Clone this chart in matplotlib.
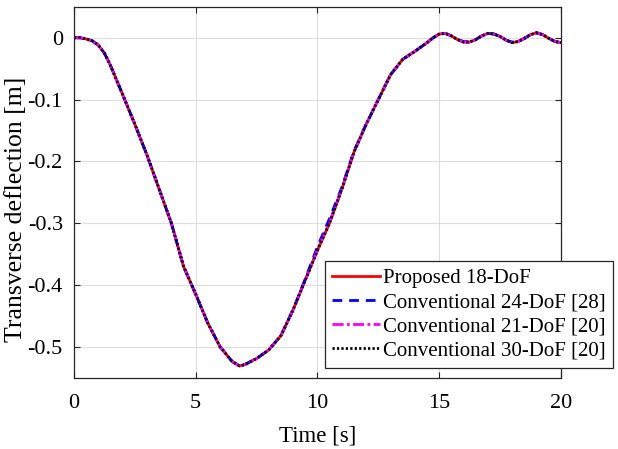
import matplotlib.pyplot as plt
from matplotlib.ticker import FixedLocator

plt.rcParams['font.family'] = ['Liberation Serif', 'DejaVu Serif']
plt.rcParams['axes.unicode_minus'] = False

# time samples [s]
time = [0, 0.25, 0.5, 0.75, 1.0, 1.25, 1.5, 2.0, 2.5, 3.0, 3.5, 4.0, 4.5, 5.0,
        5.5, 6.0, 6.5, 6.8, 7.0, 7.5, 8.0, 8.5, 9.0, 9.5, 10.0, 10.5, 11.0,
        11.5, 12.0, 12.5, 13.0, 13.5, 14.0, 14.25, 14.5, 14.75, 15.0, 15.25,
        15.5, 15.75, 16.0, 16.25, 16.5, 16.75, 17.0, 17.25, 17.5, 17.75, 18.0,
        18.25, 18.5, 18.75, 19.0, 19.25, 19.5, 19.75, 20.0]

# transverse deflection [m]
proposed_18 = [0, 0, -0.002, -0.005, -0.012, -0.025, -0.045, -0.092, -0.14,
               -0.19, -0.245, -0.30, -0.37, -0.415, -0.462, -0.50, -0.524,
               -0.531, -0.529, -0.519, -0.505, -0.482, -0.44, -0.392, -0.344,
               -0.30, -0.245, -0.185, -0.14, -0.10, -0.06, -0.035, -0.022,
               -0.015, -0.008, 0.0, 0.006, 0.007, 0.003, -0.003, -0.007,
               -0.007, -0.003, 0.003, 0.007, 0.006, 0.002, -0.004, -0.008,
               -0.006, -0.001, 0.005, 0.008, 0.005, -0.001, -0.006, -0.008]
conv_24 = [0, 0, -0.002, -0.005, -0.012, -0.025, -0.045, -0.092, -0.14,
           -0.19, -0.245, -0.30, -0.37, -0.415, -0.462, -0.50, -0.524,
           -0.530, -0.529, -0.519, -0.505, -0.482, -0.44, -0.390, -0.338,
           -0.292, -0.242, -0.183, -0.14, -0.10, -0.06, -0.035, -0.022,
           -0.015, -0.008, 0.0, 0.006, 0.007, 0.003, -0.003, -0.006,
           -0.007, -0.003, 0.003, 0.007, 0.006, 0.002, -0.004, -0.007,
           -0.006, -0.001, 0.005, 0.008, 0.005, -0.001, -0.006, -0.008]
conv_21 = [0, 0, -0.002, -0.005, -0.012, -0.025, -0.045, -0.092, -0.14,
           -0.19, -0.245, -0.30, -0.37, -0.415, -0.462, -0.50, -0.524,
           -0.531, -0.529, -0.519, -0.505, -0.482, -0.44, -0.392, -0.343,
           -0.298, -0.245, -0.185, -0.14, -0.10, -0.06, -0.035, -0.022,
           -0.015, -0.008, 0.0, 0.006, 0.007, 0.003, -0.003, -0.007,
           -0.007, -0.003, 0.003, 0.007, 0.006, 0.002, -0.004, -0.008,
           -0.006, -0.001, 0.005, 0.008, 0.005, -0.001, -0.006, -0.008]
conv_30 = [0, 0, -0.002, -0.005, -0.012, -0.025, -0.045, -0.092, -0.14,
           -0.19, -0.245, -0.30, -0.37, -0.415, -0.462, -0.50, -0.524,
           -0.531, -0.529, -0.519, -0.505, -0.482, -0.44, -0.392, -0.344,
           -0.299, -0.245, -0.185, -0.14, -0.10, -0.06, -0.035, -0.022,
           -0.015, -0.008, 0.0, 0.006, 0.007, 0.003, -0.003, -0.007,
           -0.007, -0.003, 0.003, 0.007, 0.006, 0.002, -0.004, -0.008,
           -0.006, -0.001, 0.005, 0.008, 0.005, -0.001, -0.006, -0.008]

labels = ["Proposed 18-DoF", "Conventional 24-DoF [28]",
          "Conventional 21-DoF [20]", "Conventional 30-DoF [20]"]
x_ticks = [0, 5, 10, 15, 20]
y_ticks = [0, -0.1, -0.2, -0.3, -0.4, -0.5]
y_tick_labels = ["0", "-0.1", "-0.2", "-0.3", "-0.4", "-0.5"]

fig = plt.figure(figsize=(6.18, 4.49), dpi=100)
ax = fig.add_axes([0.1197, 0.1588, 0.788, 0.826])

ax.plot(time, proposed_18, color='red', linestyle='-', linewidth=2, label=labels[0])
ax.plot(time, conv_24, color='blue', linestyle=(0, (3.5, 2.5)), linewidth=2, label=labels[1])
ax.plot(time, conv_21, color='magenta', linestyle=(0, (4, 1.2, 1, 1.2)), linewidth=2, label=labels[2])
ax.plot(time, conv_30, color='black', linestyle=(0, (0.8, 0.8)), linewidth=2, label=labels[3])

ax.set_xlim(0, 20)
ax.set_ylim(-0.55, 0.05)
ax.xaxis.set_major_locator(FixedLocator(x_ticks))
ax.set_yticks(y_ticks)
ax.set_yticklabels(y_tick_labels)
ax.tick_params(direction='in', top=True, right=True, labelsize=16, length=4,
               width=0.8, colors='#262626')
ax.tick_params(axis='x', pad=11.5)
ax.tick_params(axis='y', pad=8)
for lab in ax.get_xticklabels() + ax.get_yticklabels():
    lab.set_color('black')
for sp in ax.spines.values():
    sp.set_linewidth(0.9)
    sp.set_color('#262626')
ax.grid(True, color='#dedede', linewidth=0.8)
ax.set_axisbelow(True)

ax.set_xlabel("Time [s]", fontsize=16.5, labelpad=9)
ax.set_ylabel("Transverse deflection [m]", fontsize=18.5, labelpad=0.5)
ax.yaxis.label.set_y(0.455)

leg = ax.legend(loc='lower right', bbox_to_anchor=(1.107, 0.027), borderaxespad=0,
                fontsize=15, handlelength=2.3, handletextpad=0.15, labelspacing=0.22,
                borderpad=0.35, fancybox=False, framealpha=1, edgecolor='#262626')
leg.get_frame().set_linewidth(0.9)

plt.savefig("out.png", dpi=100)
plt.close()
